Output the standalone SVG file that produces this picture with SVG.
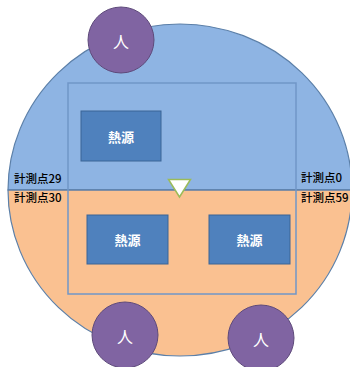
<svg xmlns="http://www.w3.org/2000/svg" width="350" height="367" viewBox="0 0 350 367">
<style>
.zone{stroke:#5B7FA8;stroke-width:1.2}
.heat rect{fill:#4F81BD;stroke:#3B6496;stroke-width:1}
.heat text{fill:#FFFFFF;font-family:"Noto Sans CJK JP","Noto Sans",sans-serif;font-size:13px;font-weight:bold;text-anchor:middle;dominant-baseline:central}
.person circle{fill:#8064A2;stroke:#5E4A7A;stroke-width:1}
.person text{fill:#FFFFFF;font-family:"Noto Sans CJK JP","Noto Sans",sans-serif;font-size:16px;text-anchor:middle;dominant-baseline:central}
.lbl{fill:#000000;font-family:"Noto Sans CJK JP","Noto Sans",sans-serif;font-size:11.5px;font-weight:500}
</style>
<g id="room">
<path class="zone" d="M8,190 A172,166 0 0 1 352,190 Z" fill="#8EB4E3"/>
<path class="zone" d="M8,190 A172,166 0 0 0 352,190 Z" fill="#FAC191"/>
<line x1="8" y1="190" x2="350" y2="190" stroke="#5B7FA8" stroke-width="1.2"/>
<rect x="68" y="83" width="228" height="211" fill="none" stroke="#7096C8" stroke-width="1.5"/>
</g>
<g id="heat1" class="heat"><rect x="81" y="111" width="80" height="50"/><text x="121" y="136">熱源</text></g>
<g id="heat2" class="heat"><rect x="87" y="215" width="81" height="49"/><text x="127.5" y="239.5">熱源</text></g>
<g id="heat3" class="heat"><rect x="209" y="215" width="81" height="49"/><text x="249.5" y="239.5">熱源</text></g>
<g id="labels">
<text class="lbl" x="14" y="183">計測点29</text>
<text class="lbl" x="14" y="202">計測点30</text>
<text class="lbl" x="301" y="182">計測点0</text>
<text class="lbl" x="301" y="202">計測点59</text>
</g>
<g id="sensor"><polygon points="168.5,179.5 190.5,179.5 179.5,197" fill="#FFFFFF" stroke="#9BBB59" stroke-width="1.5"/></g>
<g id="person1" class="person"><circle cx="121" cy="40" r="33"/><text x="121" y="41">人</text></g>
<g id="person2" class="person"><circle cx="125" cy="335" r="33"/><text x="125" y="336">人</text></g>
<g id="person3" class="person"><circle cx="261" cy="338" r="33"/><text x="261" y="339">人</text></g>
</svg>
